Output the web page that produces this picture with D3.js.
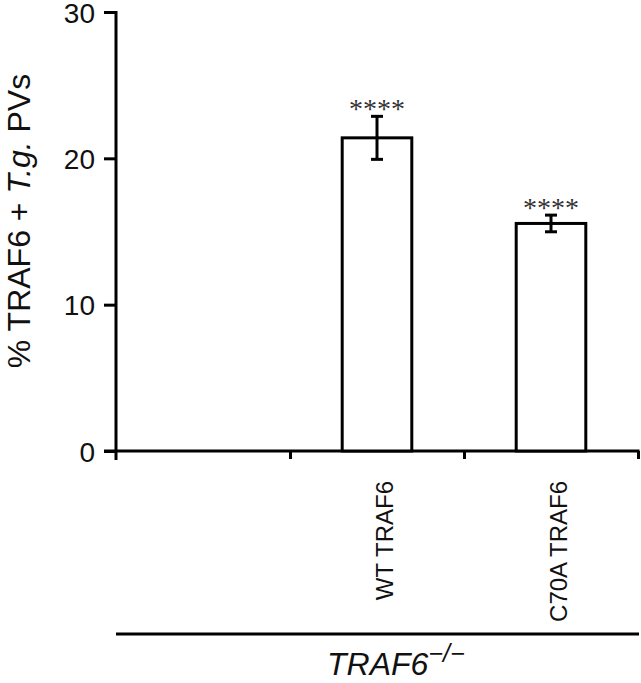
<!DOCTYPE html>
<html>
<head>
<meta charset="utf-8">
<script src="https://cdn.jsdelivr.net/npm/d3@7"></script>
<style>
  body { margin: 0; background: #fff; }
  svg { display: block; }
</style>
</head>
<body>
<svg id="chart" width="641" height="683"></svg>
<script>
// data
const categories = ["", "WT TRAF6", "C70A TRAF6"];
const means = [0, 21.4, 15.55];
const errors = [0, 1.47, 0.57];
const stars = ["", "****", "****"];
const yTicks = [0, 10, 20, 30];

const svg = d3.select("#chart");
const font = "Liberation Sans, Arial, Helvetica, sans-serif";

const x = d3.scaleBand()
  .domain(categories)
  .range([116, 638])
  .paddingInner(0.6)
  .paddingOuter(0.3);

// boundaries between groups, for the tick marks
const xEdge = d3.scaleLinear().domain([0, categories.length]).range([116, 638]);

const y = d3.scaleLinear().domain([0, 30]).range([451, 12]);

// y axis
const yAxis = svg.append("g")
  .attr("transform", "translate(116,0)")
  .call(d3.axisLeft(y).tickValues(yTicks).tickSize(12).tickPadding(9));
yAxis.select(".domain").attr("stroke-width", 3).attr("d", "M-12,12.5H0V460");
yAxis.selectAll(".tick line").attr("stroke-width", 3);
yAxis.selectAll(".tick text")
  .attr("font-family", font)
  .attr("font-size", "28px")
  .attr("dy", "0.36em")
  .attr("fill", "#111");

// x axis (no labels, only group boundaries)
const xAxis = svg.append("g")
  .attr("transform", "translate(0,451)")
  .call(d3.axisBottom(xEdge).tickValues(d3.range(1, categories.length + 1)).tickSize(8).tickFormat(""));
xAxis.select(".domain").attr("stroke-width", 3).attr("d", "M104,0H639.5");
xAxis.selectAll(".tick line").attr("stroke-width", 3);

// bars
svg.selectAll("rect.bar")
  .data(means)
  .enter()
  .append("rect")
  .attr("class", "bar")
  .attr("x", (d, i) => x(categories[i]))
  .attr("y", d => y(d))
  .attr("width", x.bandwidth())
  .attr("height", d => y(0) - y(d))
  .attr("fill", "#fff")
  .attr("stroke", "#000")
  .attr("stroke-width", 3);

// error bars and significance stars
means.forEach((m, i) => {
  if (errors[i] <= 0) return;
  const cx = x(categories[i]) + x.bandwidth() / 2;
  const g = svg.append("g").attr("stroke", "#000").attr("stroke-width", 3);
  g.append("line").attr("x1", cx).attr("x2", cx).attr("y1", y(m + errors[i])).attr("y2", y(m - errors[i]));
  g.append("line").attr("x1", cx - 6).attr("x2", cx + 6).attr("y1", y(m + errors[i])).attr("y2", y(m + errors[i]));
  g.append("line").attr("x1", cx - 6).attr("x2", cx + 6).attr("y1", y(m - errors[i])).attr("y2", y(m - errors[i]));
  svg.append("text")
    .attr("x", cx)
    .attr("y", y(m + errors[i]) + 2)
    .attr("text-anchor", "middle")
    .attr("font-family", "Liberation Serif, Times New Roman, serif")
    .attr("font-size", "28px")
    .attr("fill", "#333")
    .text(stars[i]);
});

// category labels, rotated
svg.selectAll("text.cat")
  .data(categories)
  .enter()
  .append("text")
  .attr("class", "cat")
  .attr("transform", d => `translate(${x(d) + x.bandwidth() / 2 + 16},481) rotate(-90)`)
  .attr("text-anchor", "end")
  .attr("font-family", font)
  .attr("font-size", "24px")
  .attr("fill", "#111")
  .text(d => d);

// y axis title
const yTitle = svg.append("text")
  .attr("transform", "translate(30,221) rotate(-90)")
  .attr("text-anchor", "middle")
  .attr("font-family", font)
  .attr("font-size", "32px")
  .attr("fill", "#111");
yTitle.append("tspan").text("% TRAF6 + ");
yTitle.append("tspan").attr("font-style", "italic").text("T.g.");
yTitle.append("tspan").text(" PVs");

// genotype bracket
svg.append("line")
  .attr("x1", 116).attr("x2", 639)
  .attr("y1", 634).attr("y2", 634)
  .attr("stroke", "#000").attr("stroke-width", 3);

const geno = svg.append("text")
  .attr("x", 327)
  .attr("y", 675)
  .attr("font-family", font)
  .attr("font-size", "32px")
  .attr("font-style", "italic")
  .attr("fill", "#111");
geno.append("tspan").text("TRAF6");
geno.append("tspan").attr("font-size", "25px").attr("dy", -13).text("−/−");
</script>
</body>
</html>
